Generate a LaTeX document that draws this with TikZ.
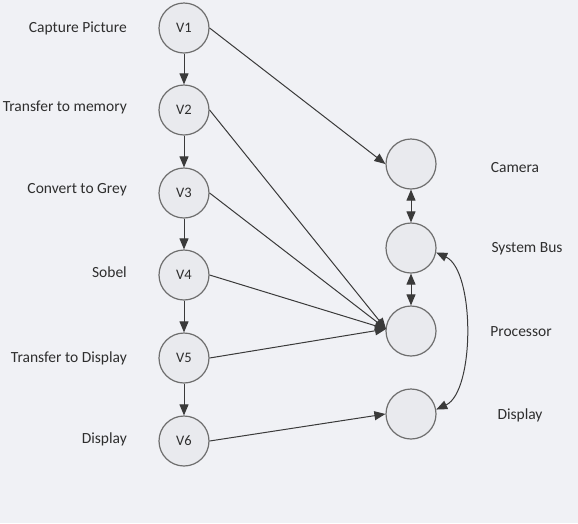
\documentclass[tikz,border=0pt]{standalone}
\usepackage{fontspec}
\setmainfont{Carlito}
\usetikzlibrary{arrows.meta}
\definecolor{bg}{HTML}{F0F1F5}
\definecolor{cfill}{HTML}{E9EAEE}
\definecolor{cdraw}{HTML}{6E6E6E}
\definecolor{ln}{HTML}{3A3A3A}
\definecolor{tx}{HTML}{2E2E2E}
\begin{document}
\begin{tikzpicture}[x=1pt,y=-1pt,
  vnode/.style={circle,draw=cdraw,line width=1.2pt,fill=cfill,minimum size=50pt,inner sep=0pt,text=tx,font=\fontsize{14.5}{17}\selectfont},
  lbl/.style={anchor=east,text=tx,font=\fontsize{15.5}{18}\selectfont,inner sep=0pt},
  rlbl/.style={anchor=center,text=tx,font=\fontsize{15.5}{18}\selectfont,inner sep=0pt},
  conn/.style={draw=ln,line width=1pt,-{Triangle[length=11pt,width=9pt]}},
  dconn/.style={draw=ln,line width=1pt,{Triangle[length=11pt,width=9pt]}-{Triangle[length=11pt,width=9pt]}}]
\fill[bg] (0,0) rectangle (578,523);
\useasboundingbox (0,0) rectangle (578,523);
% left column
\node[vnode] (v1) at (184,28) {V1};
\node[vnode] (v2) at (184,110) {V2};
\node[vnode] (v3) at (184,193) {V3};
\node[vnode] (v4) at (184,275) {V4};
\node[vnode] (v5) at (184,358) {V5};
\node[vnode] (v6) at (184,441) {V6};
\node[lbl] (l1) at (127,28) {Capture Picture};
\node[lbl] (l2) at (127,107) {Transfer to memory};
\node[lbl] (l3) at (127,190) {Convert to Grey};
\node[lbl] (l4) at (127,272) {Sobel};
\node[lbl] (l5) at (127,358) {Transfer to Display};
\node[lbl] (l6) at (127,439) {Display};
% right column
\node[vnode] (cam) at (411,164) {};
\node[vnode] (bus) at (411,248) {};
\node[vnode] (proc) at (411,331) {};
\node[vnode] (disp) at (411,414) {};
\node[rlbl] (lc) at (515,168) {Camera};
\node[rlbl] (lb) at (527,249) {System Bus};
\node[rlbl] (lp) at (521,332) {Processor};
\node[rlbl] (ld) at (520,415) {Display};
% vertical chain
\draw[conn] (v1) -- (v2);
\draw[conn] (v2) -- (v3);
\draw[conn] (v3) -- (v4);
\draw[conn] (v4) -- (v5);
\draw[conn] (v5) -- (v6);
% to right
\coordinate (pin) at (386,329);
\draw[conn] (v1.east) -- (cam.west);
\draw[conn] (v2.east) -- (pin);
\draw[conn] (v3.east) -- (pin);
\draw[conn] (v4.east) -- (pin);
\draw[conn] (v5.east) -- (pin);
\draw[conn] (v6.east) -- (disp.west);
% bus links
\draw[dconn] (cam) -- (bus);
\draw[dconn] (bus) -- (proc);
\draw[dconn] (bus.-10) to[out=-25,in=25,looseness=0.7] (disp.10);
\end{tikzpicture}
\end{document}
